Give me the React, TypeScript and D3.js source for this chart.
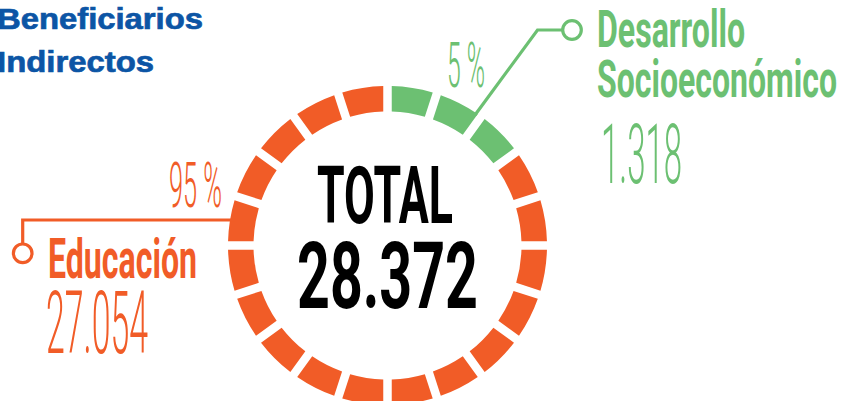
import React from "react";
import * as d3 from "d3";

const categories = ["Desarrollo Socioeconómico", "Educación"];
const values = [1318, 27054];
const percentLabels = ["5 %", "95 %"];
const valueLabels = ["1.318", "27.054"];
const segmentCounts = [3, 17];
const totalLabel = "28.372";
const titleLines = ["Beneficiarios", "Indirectos"];
const colors = ["#6cc072", "#f15c27"];

export default function App() {
  const W = 841, H = 401;
  const cx = 387.5, cy = 245.5, rOut = 159.5, rIn = 134;
  const segs: { cat: number }[] = [];
  segmentCounts.forEach((n, i) => { for (let k = 0; k < n; k++) segs.push({ cat: i }); });
  const pie = d3.pie<{ cat: number }>().value(() => 1).sort(null);
  const arcs = pie(segs);
  const arc = d3.arc<d3.PieArcDatum<{ cat: number }>>()
    .innerRadius(rIn).outerRadius(rOut).padRadius(147).padAngle(8.5 / 147);
  const cond = "Roboto, 'Liberation Sans', sans-serif";
  return (
    <svg width={W} height={H} style={{ position: "absolute", left: 0, top: 0 }}>
      <rect width={W} height={H} fill="#fff" />
      {titleLines.map((t, i) => (
        <text key={t} x={-3} y={28.5 + i * 43.5} fontFamily="'Liberation Sans', Arial, sans-serif" fontWeight={700}
          fontSize={29.5} fill="#0c55a5" stroke="#0c55a5" strokeWidth={0.7}
          textLength={i === 0 ? 206 : 157} lengthAdjust="spacingAndGlyphs">{t}</text>
      ))}
      <g>
        {arcs.map((a, i) => (
          <path key={i} d={arc(a) as string} transform={`translate(${cx},${cy})`} fill={colors[a.data.cat]} />
        ))}
      </g>
      {/* leader lines */}
      <g fill="none" strokeWidth={3.2}>
        <polyline points="475,115 537.5,30 563,30" stroke={colors[0]} />
        <circle cx={572} cy={30} r={9.3} stroke={colors[0]} fill="#fff" />
        <polyline points="236,220 22.7,220 22.7,244" stroke={colors[1]} />
        <circle cx={22.7} cy={253.3} r={9.3} stroke={colors[1]} fill="#fff" />
      </g>
      {/* center */}
      <text x={317} y={223} fontFamily={cond} fontWeight={700} fontSize={79} fill="#000"
        textLength={136} lengthAdjust="spacingAndGlyphs">TOTAL</text>
      <text x={297} y={308} fontFamily={cond} fontWeight={700} fontSize={93} fill="#000"
        textLength={181} lengthAdjust="spacingAndGlyphs">{totalLabel}</text>
      {/* Desarrollo */}
      <text x={597} y={47} fontFamily={cond} fontWeight={700} fontSize={52} fill={colors[0]}
        textLength={148} lengthAdjust="spacingAndGlyphs">{categories[0].split(" ")[0]}</text>
      <text x={597} y={97} fontFamily={cond} fontWeight={700} fontSize={52} fill={colors[0]}
        textLength={240} lengthAdjust="spacingAndGlyphs">{categories[0].split(" ")[1]}</text>
      <text x={601} y={183} fontFamily={cond} fontWeight={300} fontSize={84} fill={colors[0]}
        textLength={81} lengthAdjust="spacingAndGlyphs">{valueLabels[0]}</text>
      <text x={447} y={87} fontFamily={cond} fontWeight={300} fontSize={63} fill={colors[0]}
        textLength={38} lengthAdjust="spacingAndGlyphs">{percentLabels[0]}</text>
      {/* Educación */}
      <text x={48} y={278} fontFamily={cond} fontWeight={700} fontSize={56} fill={colors[1]}
        textLength={149} lengthAdjust="spacingAndGlyphs">{categories[1]}</text>
      <text x={46} y={353} fontFamily={cond} fontWeight={300} fontSize={88} fill={colors[1]}
        textLength={102} lengthAdjust="spacingAndGlyphs">{valueLabels[1]}</text>
      <text x={169} y={207} fontFamily={cond} fontWeight={300} fontSize={63} fill={colors[1]}
        textLength={53} lengthAdjust="spacingAndGlyphs">{percentLabels[1]}</text>
      <desc>{values.join(",")}</desc>
    </svg>
  );
}
